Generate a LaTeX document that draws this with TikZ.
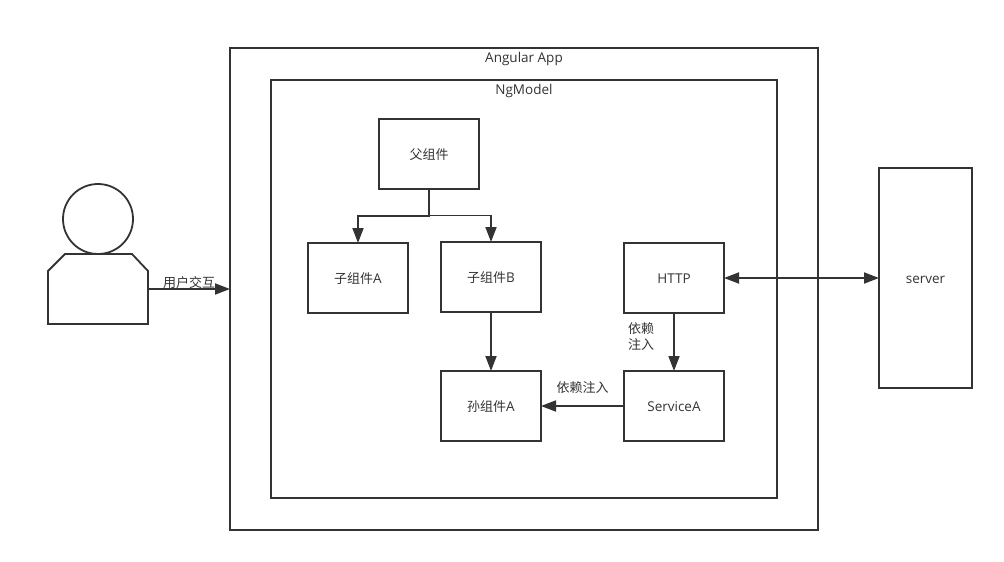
\documentclass[tikz,border=0pt]{standalone}
\usepackage{fontspec}
\setmainfont{Open Sans}
\newfontfamily\cjk{Noto Sans CJK SC}
\usepackage{xcolor}
\usetikzlibrary{arrows.meta,positioning}
\definecolor{ink}{HTML}{333333}
\begin{document}
\begin{tikzpicture}[
  x=1pt,y=1pt,
  line width=1.8pt,
  ink,
  every node/.style={outer sep=0pt,inner sep=0pt,text=ink,font=\fontsize{13.5}{16}\selectfont},
  panel/.style={draw,minimum width=#1},
  comp/.style={draw,minimum width=100pt,minimum height=70pt,align=center,
               text height=13pt,text depth=1.5pt},
  tag/.style={align=center,font=\fontsize{13}{16}\selectfont\cjk},
  title/.style={align=center},
  flow/.style={-{Triangle[length=15pt,width=11pt]}},
  bothway/.style={{Triangle[length=15pt,width=11pt]}-{Triangle[length=15pt,width=11pt]}}
]
\useasboundingbox (0,0) rectangle (1004,-562);
\node[panel=588pt,minimum height=482pt] (app) at (524,-289) {};
\node[panel=506pt,minimum height=418pt] (ngmodel) at (524,-289) {};
\node[title,below=4pt of app.north] (apptitle) {Angular App};
\node[title,below=4pt of ngmodel.north] (ngtitle) {NgModel};
\node[comp] (father) at (429,-154) {{\fontsize{13}{16}\selectfont\cjk 父组件}};
\node[comp] (childa) at (358,-278) {{\fontsize{13}{16}\selectfont\cjk 子组件}A};
\node[comp,right=33pt of childa,yshift=1pt] (childb) {{\fontsize{13}{16}\selectfont\cjk 子组件}B};
\node[comp,below=59pt of childb] (granda) {{\fontsize{13}{16}\selectfont\cjk 孙组件}A};
\node[comp,right=83pt of granda] (servicea) {ServiceA};
\node[comp,above=58pt of servicea] (http) {HTTP};
\node[draw,minimum width=93pt,minimum height=220pt,text height=13pt,text depth=1.5pt] (server) at (925.5,-278) {server};
% person
\node[draw,circle,minimum size=70pt] (head) at (98,-219) {};
\node[minimum width=100pt,minimum height=70pt,below=0pt of head] (body) {};
\draw[line join=miter] (body.south west) -- ++(0,53) -- ++(17,17) -- ++(67,0) -- ++(16,-17) -- (body.south east) -- cycle;
\coordinate[below=27pt of father.south] (fork);
\coordinate[above=0.5pt of fork] (forkb);
\draw[flow] (father.south) -- (fork) -| (childa.north);
\draw[flow] (forkb) -| (childb.north);
\draw[flow] (childb) -- (granda);
\draw[flow] (http) -- node[tag,left=20pt,pos=.4] (inject) {依赖\\注入} (servicea);
\draw[flow] (servicea) -- node[tag,above=12pt] (injectb) {依赖注入} (granda);
\draw[bothway] (http) -- (server);
\draw[flow] (body.east) -- node[tag,above=0pt] (interact) {用户交互} (app.west);
\end{tikzpicture}
\end{document}
